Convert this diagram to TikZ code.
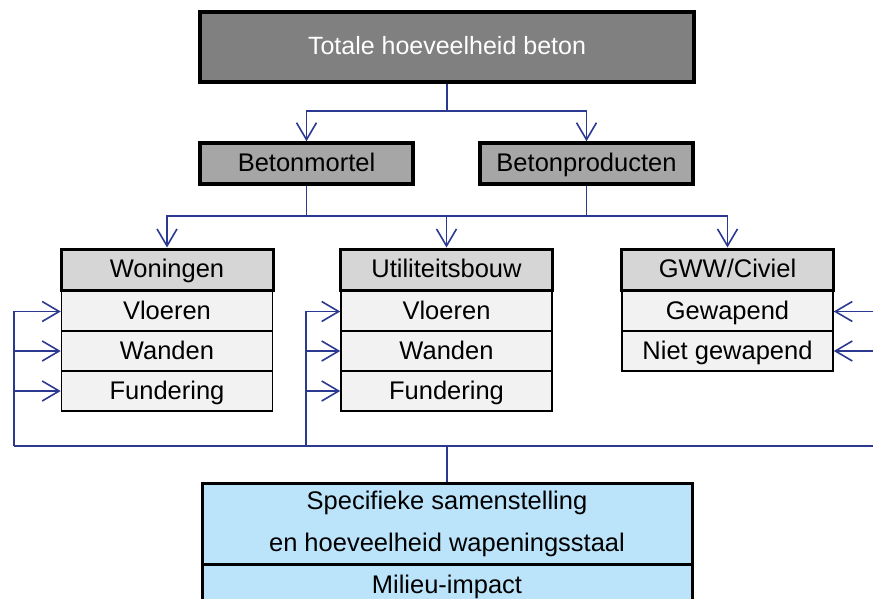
\documentclass[tikz,border=0pt]{standalone}
\usepackage{fontspec}
\setmainfont{Liberation Sans}
\usetikzlibrary{arrows.meta}
\definecolor{linkblue}{RGB}{43,57,144}
\definecolor{topgray}{RGB}{128,128,128}
\definecolor{midgray}{RGB}{166,166,166}
\definecolor{headgray}{RGB}{214,214,214}
\definecolor{rowgray}{RGB}{242,242,242}
\definecolor{baseblue}{RGB}{187,228,251}
\begin{document}
\begin{tikzpicture}[x=1pt,y=-1pt,
  box/.style={draw=black,inner sep=0pt,font=\fontsize{25.5}{30}\selectfont},
  oneline/.style={box,text height=20pt,text depth=4pt},
  topbox/.style={oneline,line width=3.5pt,fill=topgray,text=white,
    minimum width=494pt,minimum height=70pt,font=\fontsize{25}{30}\selectfont},
  midbox/.style={oneline,line width=3.5pt,fill=midgray,minimum width=213pt,minimum height=41pt},
  headbox/.style={oneline,line width=3pt,fill=headgray,minimum width=212pt,minimum height=41pt},
  rowbox/.style={oneline,line width=1.5pt,fill=rowgray,minimum width=211pt,minimum height=40pt},
  basebox/.style={box,line width=3pt,fill=baseblue,minimum width=490pt,align=center},
  link/.style={draw=linkblue,line width=1.6pt},
  arr/.style={-{Straight Barb[length=17pt,width=20pt,line width=1.6pt]}}]
  \clip (0,0) rectangle (873,599);

  % Top and second level
  \node[topbox] (total) at (447,47) {Totale hoeveelheid beton};
  \node[midbox] (mortel) at (306.5,163.5) {Betonmortel};
  \node[midbox] (producten) at (586.5,163.5) {Betonproducten};

  % Rows under each sector
  \foreach \n/\y/\txt in {v/311.5/Vloeren, w/351/Wanden, f/391/Fundering} {
    \node[rowbox] (w\n) at (167,\y) {\txt};
    \node[rowbox] (u\n) at (446.5,\y) {\txt};
  }
  \node[rowbox] (gg) at (727.5,311.5) {Gewapend};
  \node[rowbox] (gn) at (727.5,351) {Niet gewapend};

  % Sector headers
  \node[headbox] (woningen) at (167,269.5) {Woningen};
  \node[headbox] (util) at (446.5,269.5) {Utiliteitsbouw};
  \node[headbox] (gww) at (727.5,269.5) {GWW/Civiel};

  % Bottom box
  \node[basebox,minimum height=81pt,font=\fontsize{25.5}{42}\selectfont] (spec) at (447,523.5)
    {Specifieke samenstelling\\en hoeveelheid wapeningsstaal};
  \node[basebox,oneline,minimum height=42pt] (impact) at (447,585) {Milieu-impact};

  % Connectors from the top
  \coordinate (split) at (447,111);
  \draw[link,line width=2.2pt] (total.south) -- (split);
  \draw[link,arr] (split) -| (mortel.north);
  \draw[link,arr] (split) -| (producten.north);

  % Connectors to the sectors
  \coordinate (bus) at (446.5,216);
  \draw[link] (mortel.south) |- (bus);
  \draw[link] (producten.south) |- (bus);
  \draw[link,arr] (bus) -- (util.north);
  \draw[link,arr] (mortel.south |- bus) -| (woningen.north);
  \draw[link,arr] (producten.south |- bus) -| (gww.north);

  % Feedback from the bottom box
  \coordinate (lbus) at (14,446);
  \coordinate (mbus) at (306,446);
  \coordinate (rbus) at (888,446);
  \draw[link] (lbus) -- (rbus);
  \draw[link,line width=2.2pt] (spec.north) -- (spec.north |- lbus);
  \foreach \r in {wv,ww,wf}
    \draw[link,arr] (lbus) |- (\r.west);
  \foreach \r in {uv,uw,uf}
    \draw[link,arr] (mbus) |- (\r.west);
  \foreach \r in {gg,gn}
    \draw[link,arr] (rbus) |- (\r.east);
\end{tikzpicture}
\end{document}
